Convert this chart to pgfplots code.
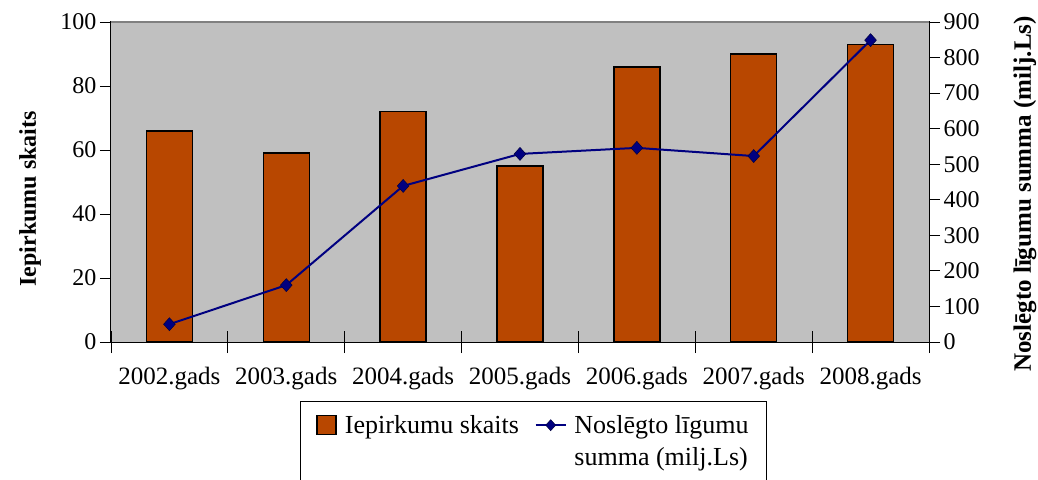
\documentclass[border=0pt]{standalone}
\usepackage{fontspec}
\setmainfont{Liberation Serif}
\usepackage{pgfplots}
\pgfplotsset{compat=1.18}
\definecolor{barcol}{RGB}{184,71,0}
\definecolor{bgcol}{RGB}{192,192,192}
\definecolor{linecol}{RGB}{0,0,128}
\pgfplotsset{
  myline legend/.style={legend image code/.code={\draw[mark repeat=2, mark phase=2, ##1, line width=1.5pt, mark size=5.5pt] plot coordinates {(0pt,0pt) (15pt,0pt) (30pt,0pt)};}},
  mybar legend/.style={legend image code/.code={\draw[fill=barcol, draw=black, line width=1.5pt] (0pt,-9.5pt) rectangle (19pt,9.5pt);}},
}
\begin{document}
\begin{tikzpicture}
\pgfplotsset{
  base/.style={
    scale only axis, width=818pt, height=320pt,
    at={(0pt,0pt)}, anchor=south west,
    xmin=-0.5, xmax=6.5,
    /pgf/number format/assume math mode=true,
    tick label style={font=\fontsize{24}{28}\selectfont},
    tick style={black, line width=0.8pt},
    major tick length=11pt,
    tick align=outside,
    axis line style={line width=1pt},
  }
}
\begin{axis}[base,
  axis background/.style={fill=bgcol},
  ymin=0, ymax=100, ytick={0,20,...,100}, ytick pos=left,
  xtick={0,...,6},
  xticklabels={2002.gads,2003.gads,2004.gads,2005.gads,2006.gads,2007.gads,2008.gads},
  x tick style={draw=none}, xtick pos=bottom,
  xticklabel style={yshift=-11pt, font=\fontsize{25}{29}\selectfont},
  ylabel={Iepirkumu skaits},
  every axis y label/.style={at={(axis description cs:-0.099,0.447)}, rotate=90, anchor=center, font=\fontsize{24}{28}\selectfont\bfseries},
]
\addplot[ybar, bar width=46pt, fill=barcol, draw=black, line width=1.5pt] coordinates {(0,66) (1,59) (2,72) (3,55) (4,86) (5,90) (6,93)};
\draw[gray, line width=1.5pt] (rel axis cs:0,1) -- (rel axis cs:1,1);
\end{axis}
\begin{axis}[base,
  ymin=0, ymax=900, ytick={0,100,...,900},
  axis y line*=right, axis x line=none,
  ylabel={Noslēgto līgumu summa (milj.Ls)},
  every axis y label/.style={at={(axis description cs:1.1174,0.4625)}, rotate=90, anchor=center, font=\fontsize{25}{29}\selectfont\bfseries},
  legend columns=2,
  legend style={at={(axis description cs:0.2311,-0.1844)}, anchor=north west, draw=black, line width=0.8pt, font=\fontsize{26}{30}\selectfont, inner xsep=16pt, inner ysep=12pt, row sep=9pt,
    /tikz/every odd column/.append style={column sep=6pt},
    /tikz/every even column/.append style={column sep=14pt}},
  legend cell align=left,
]
\addlegendimage{mybar legend}
\addlegendentry{Iepirkumu skaits}
\addplot[linecol, line width=2pt, mark=diamond*, mark size=6.5pt,
  mark options={fill=linecol, draw=black!50!linecol, line width=0.5pt, xscale=1.2},
  myline legend]
  coordinates {(0,50) (1,160) (2,439) (3,529) (4,546) (5,523) (6,849)};
\addlegendentry{Noslēgto līgumu}
\addlegendimage{empty legend}
\addlegendentry{\mbox{}}
\addlegendimage{empty legend}
\addlegendentry{summa (milj.Ls)}
\end{axis}
\begin{axis}[base, ymin=0, ymax=1, axis y line=none, axis x line*=bottom,
  xtick={-0.5,0.5,...,6.5}, xticklabels={}, tick align=center, major tick length=22pt]
\end{axis}
\pgfresetboundingbox
\useasboundingbox (-111pt,-137pt) rectangle (927pt,342pt);
\end{tikzpicture}
\end{document}
